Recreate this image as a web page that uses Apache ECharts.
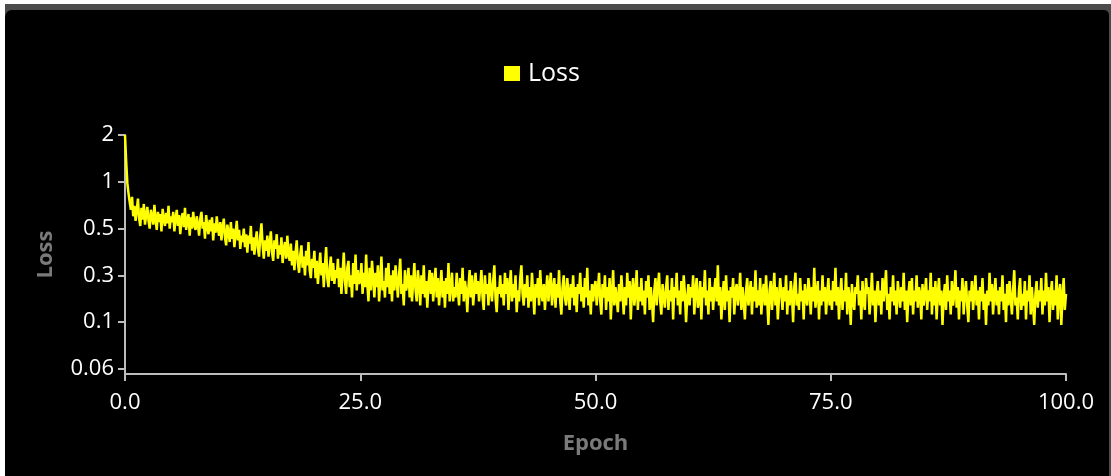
<!DOCTYPE html>
<html>
<head>
<meta charset="utf-8">
<script src="https://cdn.jsdelivr.net/npm/echarts@6/dist/echarts.min.js"></script>
<style>
  html, body { margin: 0; padding: 0; background: #ffffff; width: 1111px; height: 476px; overflow: hidden; }
  #frame { position: absolute; left: 5px; top: 4px; width: 1106px; height: 472px; background: #4b4b4b; }
  #inner { position: absolute; left: 0; top: 6px; width: 1104px; height: 466px; background: #000; border-top-left-radius: 7px; border-top-right-radius: 5px; }
  #chart { position: absolute; left: 0; top: 0; width: 1111px; height: 476px; }
</style>
</head>
<body>
<div id="frame"><div id="inner"></div></div>
<div id="chart"></div>
<script>
// ---- data ----
const seriesName = 'Loss';
const xAxisTitle = 'Epoch';
const yAxisTitle = 'Loss';
const xTicks = [0, 25, 50, 75, 100];
const yTickValues = [2, 1, 0.5, 0.25, 0.125, 0.0625];
// loss recorded every 1/8 epoch from epoch 0 to epoch 100
const lossValues = [
  // 0-2.5
  2.00, 1.35, 0.98, 0.84, 0.74, 0.66, 0.80, 0.60, 0.70, 0.56, 0.66, 0.78, 0.58, 0.52, 0.68, 0.57, 0.72, 0.53, 0.61, 0.69,
  // 2.5-5
  0.56, 0.50, 0.66, 0.60, 0.53, 0.71, 0.57, 0.49, 0.64, 0.55, 0.62, 0.48, 0.67, 0.58, 0.52, 0.63, 0.54, 0.70, 0.50, 0.60,
  // 5-7.5
  0.55, 0.64, 0.48, 0.58, 0.66, 0.52, 0.61, 0.46, 0.57, 0.63, 0.51, 0.68, 0.49, 0.56, 0.62, 0.45, 0.59, 0.50, 0.64, 0.53,
  // 7.5-10
  0.49, 0.60, 0.53, 0.45, 0.58, 0.64, 0.50, 0.55, 0.43, 0.61, 0.51, 0.46, 0.57, 0.48, 0.59, 0.42, 0.54, 0.47, 0.60, 0.50,
  // 10-12.5
  0.45, 0.55, 0.42, 0.51, 0.58, 0.44, 0.39, 0.53, 0.47, 0.41, 0.55, 0.43, 0.50, 0.38, 0.46, 0.56, 0.42, 0.49, 0.37, 0.45,
  // 12.5-15
  0.41, 0.50, 0.38, 0.46, 0.35, 0.45, 0.40, 0.52, 0.36, 0.44, 0.34, 0.42, 0.48, 0.37, 0.33, 0.45, 0.54, 0.39, 0.32, 0.42,
  // 15-17.5
  0.36, 0.45, 0.33, 0.40, 0.48, 0.35, 0.31, 0.42, 0.37, 0.46, 0.32, 0.39, 0.34, 0.44, 0.30, 0.37, 0.41, 0.32, 0.45, 0.34,
  // 17.5-20
  0.31, 0.40, 0.29, 0.36, 0.27, 0.35, 0.42, 0.30, 0.26, 0.34, 0.39, 0.28, 0.33, 0.25, 0.36, 0.29, 0.41, 0.27, 0.24, 0.32,
  // 20-22.5
  0.28, 0.36, 0.24, 0.31, 0.22, 0.28, 0.35, 0.25, 0.30, 0.21, 0.29, 0.38, 0.24, 0.21, 0.28, 0.33, 0.23, 0.30, 0.22, 0.27,
  // 22.5-25
  0.24, 0.32, 0.21, 0.28, 0.19, 0.26, 0.35, 0.23, 0.19, 0.28, 0.31, 0.21, 0.25, 0.18, 0.30, 0.22, 0.34, 0.20, 0.27, 0.22,
  // 25-27.5
  0.23, 0.30, 0.19, 0.26, 0.21, 0.34, 0.22, 0.17, 0.28, 0.20, 0.31, 0.24, 0.18, 0.26, 0.21, 0.29, 0.17, 0.23, 0.33, 0.20,
  // 27.5-30
  0.23, 0.18, 0.28, 0.21, 0.30, 0.19, 0.25, 0.17, 0.27, 0.20, 0.29, 0.23, 0.18, 0.25, 0.32, 0.19, 0.22, 0.16, 0.27, 0.20,
  // 30-32.5
  0.22, 0.28, 0.18, 0.25, 0.17, 0.23, 0.30, 0.20, 0.17, 0.27, 0.22, 0.16, 0.25, 0.19, 0.29, 0.18, 0.23, 0.155, 0.22, 0.27,
  // 32.5-35
  0.19, 0.26, 0.17, 0.22, 0.28, 0.18, 0.24, 0.16, 0.21, 0.27, 0.18, 0.23, 0.155, 0.24, 0.19, 0.30, 0.17, 0.21, 0.26, 0.17,
  // 35-37.5
  0.21, 0.18, 0.26, 0.20, 0.16, 0.24, 0.19, 0.28, 0.17, 0.23, 0.20, 0.145, 0.21, 0.27, 0.18, 0.25, 0.16, 0.20, 0.26, 0.19,
  // 37.5-40
  0.23, 0.17, 0.21, 0.27, 0.18, 0.15, 0.25, 0.19, 0.22, 0.16, 0.26, 0.20, 0.17, 0.23, 0.29, 0.18, 0.145, 0.21, 0.19, 0.25,
  // 40-42.5
  0.18, 0.22, 0.16, 0.26, 0.19, 0.24, 0.15, 0.21, 0.27, 0.17, 0.22, 0.18, 0.25, 0.145, 0.20, 0.17, 0.24, 0.29, 0.19, 0.16,
  // 42.5-45
  0.22, 0.18, 0.25, 0.155, 0.21, 0.17, 0.26, 0.19, 0.14, 0.22, 0.18, 0.24, 0.16, 0.27, 0.19, 0.17, 0.22, 0.15, 0.20, 0.25,
  // 45-47.5
  0.17, 0.21, 0.26, 0.16, 0.20, 0.24, 0.155, 0.22, 0.18, 0.27, 0.17, 0.14, 0.21, 0.25, 0.18, 0.16, 0.24, 0.19, 0.15, 0.22,
  // 47.5-50
  0.18, 0.25, 0.16, 0.21, 0.145, 0.22, 0.19, 0.26, 0.17, 0.21, 0.155, 0.24, 0.18, 0.28, 0.16, 0.20, 0.14, 0.22, 0.17, 0.21,
  // 50-52.5
  0.23, 0.16, 0.20, 0.26, 0.17, 0.14, 0.22, 0.18, 0.25, 0.15, 0.21, 0.17, 0.24, 0.13, 0.19, 0.27, 0.16, 0.21, 0.18, 0.145,
  // 52.5-55
  0.22, 0.17, 0.25, 0.19, 0.14, 0.21, 0.16, 0.26, 0.18, 0.23, 0.13, 0.20, 0.24, 0.16, 0.19, 0.27, 0.15, 0.21, 0.17, 0.24,
  // 55-57.5
  0.16, 0.20, 0.14, 0.23, 0.18, 0.25, 0.15, 0.21, 0.17, 0.125, 0.20, 0.24, 0.16, 0.21, 0.26, 0.17, 0.14, 0.22, 0.18, 0.155,
  // 57.5-60
  0.21, 0.25, 0.15, 0.20, 0.17, 0.24, 0.13, 0.21, 0.18, 0.26, 0.16, 0.20, 0.14, 0.23, 0.17, 0.25, 0.19, 0.125, 0.18, 0.22,
  // 60-62.5
  0.16, 0.21, 0.18, 0.25, 0.14, 0.20, 0.24, 0.155, 0.17, 0.23, 0.13, 0.21, 0.18, 0.27, 0.16, 0.20, 0.14, 0.24, 0.17, 0.21,
  // 62.5-65
  0.15, 0.20, 0.24, 0.17, 0.29, 0.16, 0.21, 0.13, 0.18, 0.23, 0.15, 0.25, 0.17, 0.20, 0.125, 0.21, 0.18, 0.24, 0.14, 0.20,
  // 65-67.5
  0.22, 0.16, 0.19, 0.26, 0.15, 0.21, 0.17, 0.13, 0.20, 0.24, 0.16, 0.19, 0.23, 0.14, 0.21, 0.17, 0.27, 0.155, 0.20, 0.16,
  // 67.5-70
  0.24, 0.14, 0.19, 0.22, 0.16, 0.25, 0.17, 0.12, 0.20, 0.23, 0.15, 0.19, 0.26, 0.16, 0.21, 0.13, 0.18, 0.24, 0.19, 0.15,
  // 70-72.5
  0.21, 0.17, 0.25, 0.14, 0.20, 0.16, 0.23, 0.19, 0.125, 0.21, 0.26, 0.16, 0.19, 0.15, 0.24, 0.17, 0.20, 0.13, 0.22, 0.18,
  // 72.5-75
  0.16, 0.24, 0.20, 0.14, 0.21, 0.17, 0.28, 0.155, 0.19, 0.23, 0.13, 0.20, 0.16, 0.25, 0.17, 0.21, 0.14, 0.19, 0.24, 0.16,
  // 75-77.5
  0.20, 0.15, 0.23, 0.17, 0.28, 0.16, 0.21, 0.13, 0.19, 0.24, 0.15, 0.20, 0.17, 0.26, 0.14, 0.21, 0.18, 0.12, 0.22, 0.17,
  // 77.5-80
  0.15, 0.21, 0.19, 0.25, 0.16, 0.20, 0.13, 0.23, 0.17, 0.15, 0.24, 0.19, 0.21, 0.14, 0.18, 0.26, 0.16, 0.20, 0.125, 0.19,
  // 80-82.5
  0.23, 0.16, 0.20, 0.14, 0.24, 0.17, 0.21, 0.27, 0.15, 0.19, 0.13, 0.21, 0.17, 0.25, 0.16, 0.20, 0.14, 0.23, 0.19, 0.155,
  // 82.5-85
  0.21, 0.17, 0.26, 0.15, 0.20, 0.125, 0.19, 0.23, 0.16, 0.24, 0.14, 0.20, 0.17, 0.25, 0.155, 0.21, 0.19, 0.13, 0.22, 0.16,
  // 85-87.5
  0.19, 0.24, 0.15, 0.20, 0.17, 0.26, 0.14, 0.21, 0.16, 0.23, 0.13, 0.19, 0.24, 0.16, 0.20, 0.12, 0.18, 0.22, 0.15, 0.25,
  // 87.5-90
  0.17, 0.20, 0.14, 0.23, 0.16, 0.19, 0.27, 0.155, 0.21, 0.13, 0.20, 0.17, 0.24, 0.14, 0.19, 0.23, 0.16, 0.125, 0.20, 0.17,
  // 90-92.5
  0.23, 0.15, 0.19, 0.25, 0.16, 0.20, 0.13, 0.21, 0.17, 0.24, 0.15, 0.19, 0.12, 0.20, 0.16, 0.26, 0.17, 0.22, 0.14, 0.19,
  // 92.5-95
  0.24, 0.16, 0.20, 0.14, 0.21, 0.17, 0.25, 0.15, 0.19, 0.125, 0.22, 0.16, 0.23, 0.18, 0.14, 0.20, 0.27, 0.16, 0.18, 0.13,
  // 95-97.5
  0.20, 0.24, 0.15, 0.19, 0.16, 0.23, 0.13, 0.20, 0.17, 0.25, 0.14, 0.21, 0.16, 0.12, 0.19, 0.23, 0.155, 0.20, 0.17, 0.24,
  // 97.5-100
  0.14, 0.20, 0.16, 0.26, 0.17, 0.21, 0.125, 0.19, 0.23, 0.15, 0.20, 0.16, 0.25, 0.13, 0.19, 0.22, 0.12, 0.18, 0.24, 0.15, 0.19
];
const lastEpoch = 100;

const epochStep = lastEpoch / (lossValues.length - 1);
const points = lossValues.map((v, i) => [i * epochStep, v]);

const FONT = '"Open Sans", "Noto Sans", sans-serif';
const chart = echarts.init(document.getElementById('chart'), null, { renderer: 'canvas' });
chart.setOption({
  backgroundColor: 'transparent',
  animation: false,
  textStyle: { fontFamily: FONT },
  legend: {
    data: [{ name: seriesName, icon: 'rect' }],
    left: 499,
    top: 56,
    itemWidth: 16,
    itemHeight: 15,
    textStyle: { color: '#ffffff', fontSize: 25, fontFamily: FONT, padding: [0, 0, 0, 3] }
  },
  grid: { left: 125, right: 45, top: 135, bottom: 102, containLabel: false },
  xAxis: {
    type: 'value',
    min: xTicks[0],
    max: xTicks[xTicks.length - 1],
    interval: xTicks[1] - xTicks[0],
    name: xAxisTitle,
    nameLocation: 'middle',
    nameGap: 59,
    nameTextStyle: { color: '#7a7a7a', fontSize: 22, fontWeight: 'bold', fontFamily: FONT },
    axisLine: { show: true, lineStyle: { color: '#bdbdbd', width: 2 } },
    axisTick: { show: true, length: 7, lineStyle: { color: '#bdbdbd', width: 2 } },
    axisLabel: { color: '#ffffff', fontSize: 22, margin: 18, fontFamily: FONT,
      formatter: v => v.toFixed(1) },
    splitLine: { show: false }
  },
  yAxis: {
    type: 'log',
    logBase: 2,
    min: 0.058,
    max: yTickValues[0],
    name: yAxisTitle,
    nameLocation: 'middle',
    nameGap: 68,
    nameTextStyle: { color: '#7a7a7a', fontSize: 22, fontWeight: 'bold', fontFamily: FONT },
    axisLine: { show: true, lineStyle: { color: '#bdbdbd', width: 2 } },
    axisTick: { show: true, length: 7, lineStyle: { color: '#bdbdbd', width: 2 } },
    axisLabel: { color: '#ffffff', fontSize: 22, margin: 11, fontFamily: FONT, showMinLabel: false,
      formatter: v => String(Number(Number(v).toPrecision(1))) },
    splitLine: { show: false }
  },
  series: [{
    name: seriesName,
    type: 'line',
    data: points,
    showSymbol: false,
    symbol: 'none',
    lineStyle: { color: '#ffff00', width: 2.5 },
    itemStyle: { color: '#ffff00' },
    sampling: null
  }]
});
</script>
</body>
</html>
